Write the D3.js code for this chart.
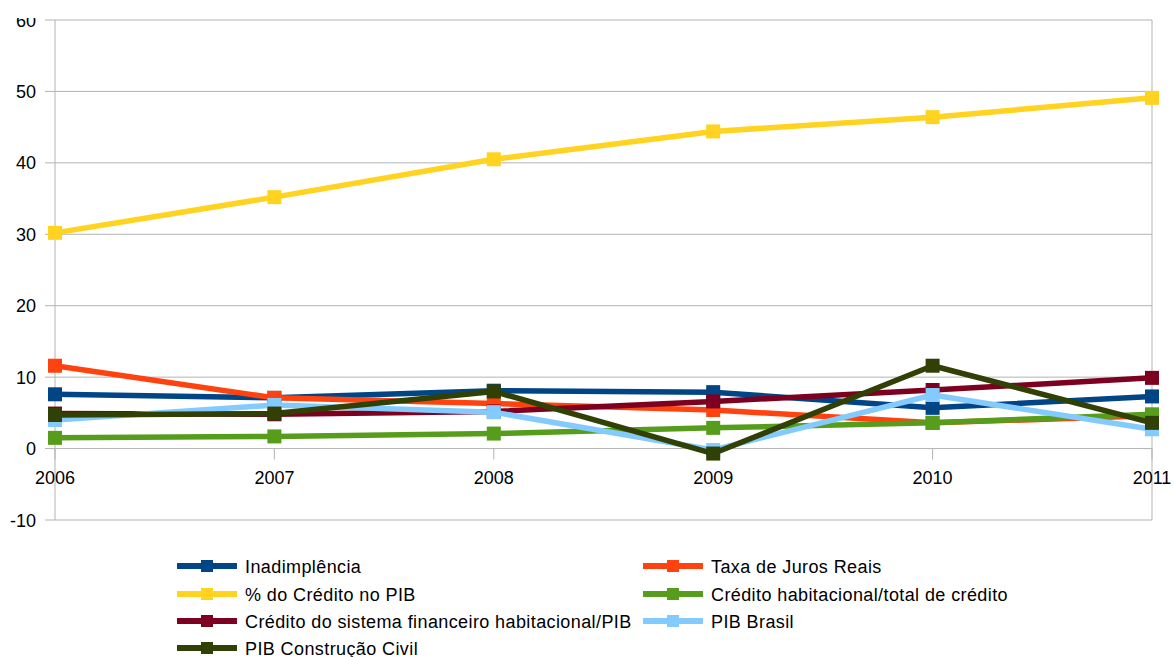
<html>
<head>
<meta charset="utf-8">
<script src="https://d3js.org/d3.v7.min.js"></script>
<style>
body { margin: 0; background: #fff; }
text { font-family: "Liberation Sans", Arial, sans-serif; fill: #000; }
</style>
</head>
<body>
<svg id="chart" width="1174" height="657"></svg>
<script>
// data
var years = ["2006", "2007", "2008", "2009", "2010", "2011"];
var yTicks = [-10, 0, 10, 20, 30, 40, 50, 60];
var seriesNames = ["Inadimplência", "Taxa de Juros Reais", "% do Crédito no PIB",
    "Crédito habitacional/total de crédito", "Crédito do sistema financeiro habitacional/PIB",
    "PIB Brasil", "PIB Construção Civil"];
var inadimplencia = [7.6, 7.1, 8.1, 7.9, 5.7, 7.3];
var taxaJuros = [11.6, 7.1, 6.3, 5.4, 3.6, 4.6];
var creditoPib = [30.2, 35.2, 40.5, 44.4, 46.4, 49.1];
var creditoHabTotal = [1.5, 1.7, 2.1, 2.9, 3.6, 4.8];
var creditoSfhPib = [4.9, 4.8, 5.2, 6.6, 8.2, 9.9];
var pibBrasil = [4.0, 6.1, 5.1, -0.2, 7.5, 2.7];
var pibConstrucao = [4.7, 4.9, 8.0, -0.7, 11.6, 3.6];
var colors = ["#004586", "#ff420e", "#ffd320", "#579d1c", "#7e0021", "#83caff", "#314004"];

var allValues = [inadimplencia, taxaJuros, creditoPib, creditoHabTotal, creditoSfhPib, pibBrasil, pibConstrucao];

var pLeft = 55, pRight = 1152, pTop = 20, pBottom = 520;
var svg = d3.select("#chart");

// the top label is cut off in the original
svg.append("clipPath").attr("id", "cut").append("rect")
    .attr("x", 0).attr("y", 18).attr("width", 1174).attr("height", 639);

var x = d3.scalePoint().domain(years).range([pLeft, pRight]);
var y = d3.scaleLinear().domain([-10, 60]).range([pBottom, pTop]);

// grid
svg.append("g").selectAll("line").data(yTicks).enter().append("line")
    .attr("x1", pLeft - 10).attr("x2", pRight)
    .attr("y1", function(d) { return y(d); }).attr("y2", function(d) { return y(d); })
    .attr("stroke", "#b3b3b3").attr("stroke-width", 1);

// frame sides
svg.append("line").attr("x1", pLeft).attr("x2", pLeft).attr("y1", pTop).attr("y2", pBottom)
    .attr("stroke", "#b3b3b3");
svg.append("line").attr("x1", pRight).attr("x2", pRight).attr("y1", pTop).attr("y2", pBottom)
    .attr("stroke", "#b3b3b3");

// x ticks on zero line
svg.append("g").selectAll("line").data(years).enter().append("line")
    .attr("x1", function(d) { return x(d); }).attr("x2", function(d) { return x(d); })
    .attr("y1", y(0)).attr("y2", y(0) + 11)
    .attr("stroke", "#b3b3b3");

// y labels
svg.append("g").attr("clip-path", "url(#cut)")
    .selectAll("text").data(yTicks).enter().append("text")
    .attr("x", pLeft - 19).attr("y", function(d) { return y(d) + 6.5; })
    .attr("text-anchor", "end").style("font-size", "18px")
    .text(function(d) { return d; });

// x labels
svg.append("g").selectAll("text").data(years).enter().append("text")
    .attr("x", function(d) { return x(d); }).attr("y", y(0) + 35)
    .attr("text-anchor", "middle").style("font-size", "18px")
    .text(function(d) { return d; });

// lines
var line = d3.line().x(function(d, i) { return x(years[i]); }).y(function(d) { return y(d); });
var ms = 14;
allValues.forEach(function(vals, k) {
    var g = svg.append("g");
    g.append("path").datum(vals).attr("d", line)
        .attr("fill", "none").attr("stroke", colors[k]).attr("stroke-width", 5.5)
        .attr("stroke-linejoin", "round");
    g.selectAll("rect").data(vals).enter().append("rect")
        .attr("x", function(d, i) { return x(years[i]) - ms / 2; })
        .attr("y", function(d) { return y(d) - ms / 2; })
        .attr("width", ms).attr("height", ms)
        .attr("fill", colors[k]);
});

// legend
var legX = [177, 643], legY = [566, 594, 621, 648];
seriesNames.forEach(function(name, k) {
    var lx = legX[k % 2], ly = legY[Math.floor(k / 2)];
    var g = svg.append("g");
    g.append("line").attr("x1", lx).attr("x2", lx + 60).attr("y1", ly).attr("y2", ly)
        .attr("stroke", colors[k]).attr("stroke-width", 6);
    g.append("rect").attr("x", lx + 24).attr("y", ly - 6).attr("width", 12).attr("height", 12)
        .attr("fill", colors[k]);
    g.append("text").attr("x", lx + 68).attr("y", ly + 6.5)
        .style("font-size", "18px").style("letter-spacing", "0.4px").text(name);
});
</script>
</body>
</html>
